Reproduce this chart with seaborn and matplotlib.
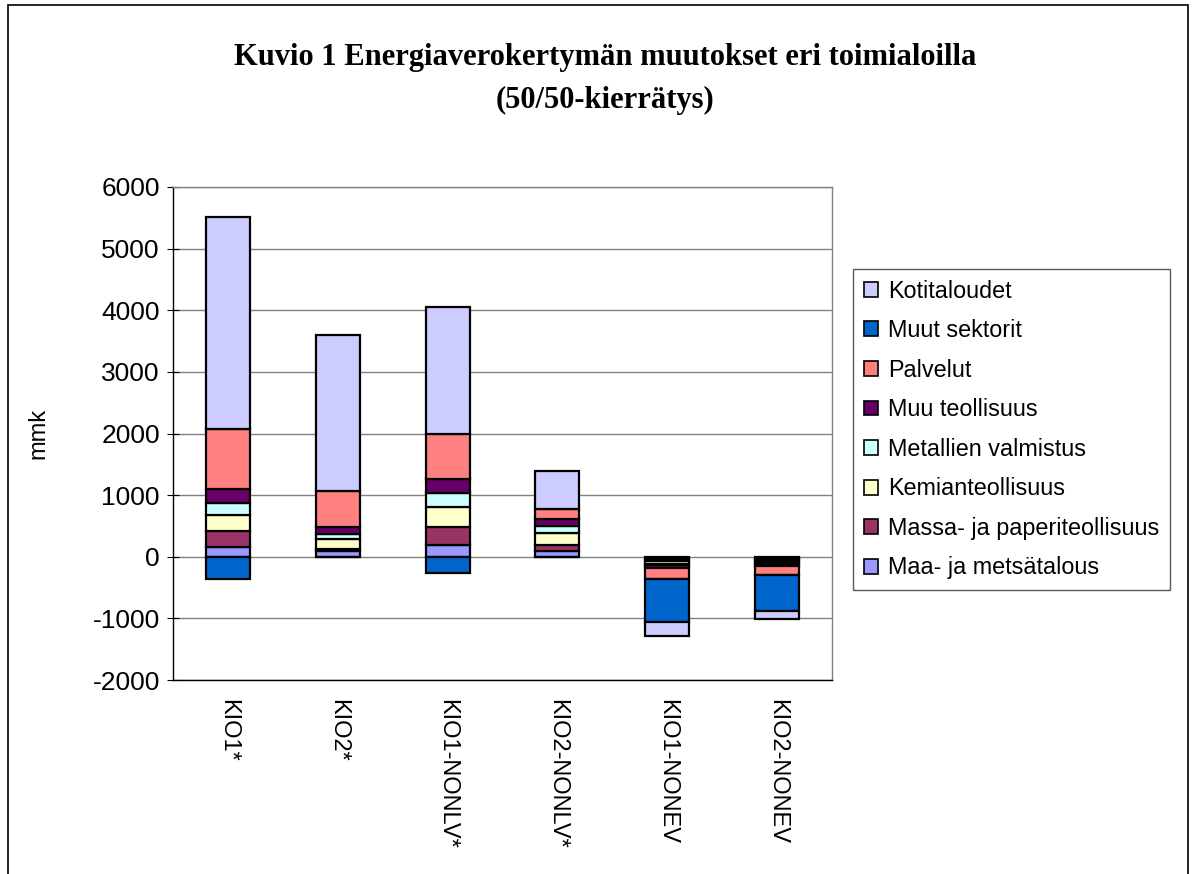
import numpy as np
import matplotlib
matplotlib.use("Agg")
import matplotlib.pyplot as plt
import seaborn as sns
from matplotlib.patches import Patch, Rectangle

categories = ["KIO1*", "KIO2*", "KIO1-NONLV*", "KIO2-NONLV*", "KIO1-NONEV", "KIO2-NONEV"]

# stacking order, bottom to top
maa = [157, 90, 185, 92, -40, -30]
massa = [255, 40, 296, 98, -30, -30]
kemia = [259, 155, 319, 189, -40, -30]
metallit = [204, 90, 237, 123, -30, -30]
muu_teoll = [217, 105, 222, 109, -40, -30]
palvelut = [973, 580, 741, 157, -185, -152]
muut_sektorit = [-355, -10, -270, -10, -700, -578]
kotitaloudet = [3455, 2535, 2047, 621, -220, -130]

series_names = ["Maa- ja metsätalous", "Massa- ja paperiteollisuus", "Kemianteollisuus",
                "Metallien valmistus", "Muu teollisuus", "Palvelut", "Muut sektorit",
                "Kotitaloudet"]
series_values = [maa, massa, kemia, metallit, muu_teoll, palvelut, muut_sektorit, kotitaloudet]
colors = ["#9999FF", "#993366", "#FFFFCC", "#CCFFFF", "#660066", "#FF8080", "#0066CC", "#CCCCFF"]

sns.set_style("white")
plt.rcParams["font.family"] = ["Liberation Sans", "DejaVu Sans"]
plt.rcParams["axes.unicode_minus"] = False
plt.rcParams["text.color"] = "black"
plt.rcParams["axes.labelcolor"] = "black"
plt.rcParams["xtick.color"] = "black"
plt.rcParams["ytick.color"] = "black"

fig = plt.figure(figsize=(11.94, 8.74), dpi=100)
ax = fig.add_axes([173 / 1194, 1 - 680 / 874, 659 / 1194, 493 / 874])

x = np.arange(len(categories))
pos_bottom = np.zeros(len(categories))
neg_bottom = np.zeros(len(categories))
for vals, col in zip(series_values, colors):
    v = np.array(vals, dtype=float)
    bottom = np.where(v >= 0, pos_bottom, neg_bottom)
    ax.bar(x, v, width=0.4, bottom=bottom, color=col, edgecolor="black", linewidth=1.6, zorder=3)
    pos_bottom += np.where(v >= 0, v, 0)
    neg_bottom += np.where(v < 0, v, 0)

ax.set_xlim(-0.5, len(categories) - 0.5)
ax.set_ylim(-2000, 6000)
ax.set_yticks(np.arange(-2000, 6001, 1000))
ax.yaxis.grid(True, color="#808080", linewidth=1, zorder=0)
ax.set_xticks(x)
ax.set_xticklabels(categories, rotation=270, fontsize=17)
ax.tick_params(axis="y", labelsize=19, length=9, direction="inout", left=True, pad=5)
ax.tick_params(axis="x", length=0, bottom=True, pad=14)
ax.set_ylabel("mmk", fontsize=17)
ax.yaxis.set_label_coords(-0.187, 0.5)

for side in ["top", "right"]:
    ax.spines[side].set_color("#808080")
for side in ["left", "bottom"]:
    ax.spines[side].set_color("black")
for s in ax.spines.values():
    s.set_linewidth(1)

handles = [Patch(facecolor=c, edgecolor="black", linewidth=1.2, label=n)
           for n, c in zip(series_names[::-1], colors[::-1])]
leg = fig.legend(handles=handles, loc="upper left", bbox_to_anchor=(853 / 1194, 1 - 269 / 874),
                 fontsize=16.8, frameon=True, fancybox=False, edgecolor="#303030",
                 handlelength=0.6, handleheight=0.6, handletextpad=0.45, labelspacing=0.71,
                 borderpad=0.45, borderaxespad=0)
leg.get_frame().set_linewidth(1)

fig.text(605 / 1194, 1 - 57 / 874, "Kuvio 1 Energiaverokertymän muutokset eri toimialoilla",
         ha="center", va="center", fontsize=22, fontweight="bold", family="Liberation Serif")
fig.text(605 / 1194, 1 - 100 / 874, "(50/50-kierrätys)",
         ha="center", va="center", fontsize=22, fontweight="bold", family="Liberation Serif")

fig.patches.append(Rectangle((8 / 1194, -0.1), 1180 / 1194, 1.1 - 5 / 874,
                             transform=fig.transFigure, fill=False, edgecolor="black",
                             linewidth=1.2))

fig.savefig("out.png", dpi=100)
